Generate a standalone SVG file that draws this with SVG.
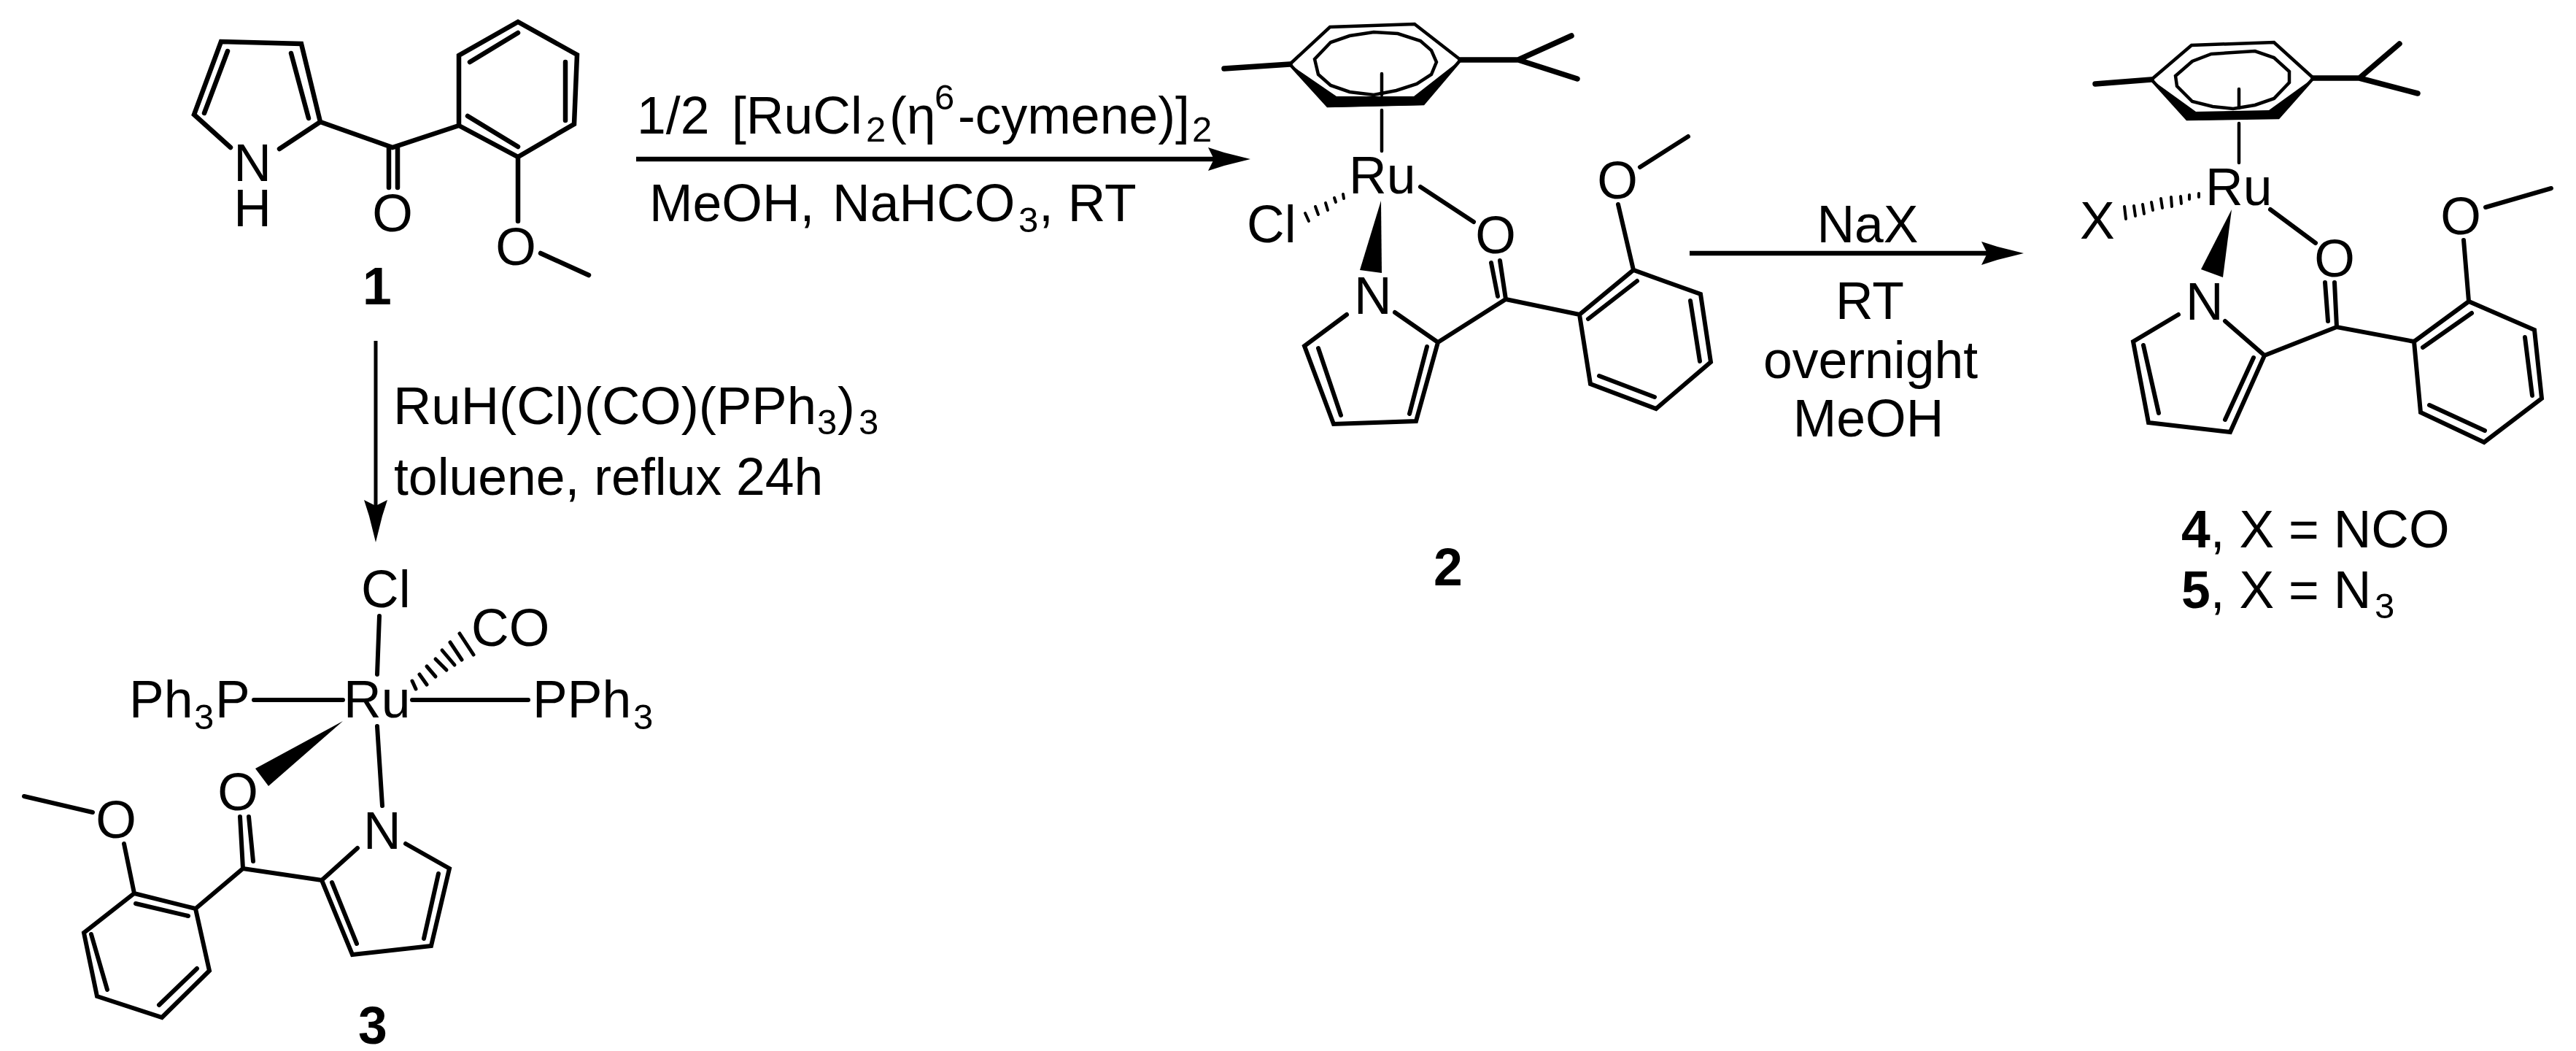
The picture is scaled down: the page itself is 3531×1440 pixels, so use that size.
<svg xmlns="http://www.w3.org/2000/svg" width="3531" height="1440" viewBox="0 0 3531 1440">
<style>
text{font-family:"Liberation Sans",Arial,sans-serif;font-size:71.5px;fill:#000}
.b{font-weight:bold}
.m{text-anchor:middle}
.s{font-size:49px}
.bond{fill:none;stroke:#000;stroke-width:6.5;stroke-linecap:round}
.thin{fill:none;stroke:#000;stroke-width:4.5;stroke-linecap:round}
.thick{fill:none;stroke:#000;stroke-width:7.5;stroke-linecap:round}
.arr{fill:none;stroke:#000;stroke-width:6.5}
.fill{fill:#000;stroke:none}
</style>
<defs>
<path id="head" class="fill" d="M0 0L-36 -9L-58 -16L-50 0L-58 16L-36 9Z"/>
</defs>
<rect width="3531" height="1440" fill="#fff"/>
<g id="connectors">
<line class="arr" x1="872" y1="218" x2="1670" y2="218"/><use href="#head" transform="translate(1714 218)"/>
<line class="arr" x1="2316" y1="347" x2="2730" y2="347"/><use href="#head" transform="translate(2774 347)"/>
<line class="arr" style="stroke-width:5" x1="515" y1="467" x2="515" y2="700"/><use href="#head" transform="translate(515 743) rotate(90)"/>
</g>
<g id="compound-1">
<path class="bond" d="M316 202L266 157L303 57L413 60L439 167L383 204M312 70L280 155M399 73L423 162M439 167L538 202L629 172M533 202V257M545 202V257M629 172V76L710 30L791 75L787 170L710 215L629 172M644 85L710 45M775 85V165M641 159L710 201M710 215V303M741 347L807 377"/>
<text class="m"><tspan x="346" y="248">N</tspan><tspan x="346" y="310">H</tspan></text>
<text class="m" x="538" y="317">O</text><text class="m" x="707" y="363">O</text>
<text class="b m" x="517" y="417">1</text>
</g>
<g id="compound-2">
<path class="bond" d="M1768 88L1823 37L1939 33L2002 82L1951 142L1820 145Z" style="stroke-width:4.5"/>
<polygon class="fill" points="1768,88 1820,147 1951,144 2002,82 1938,132 1832,132"/>
<path class="thick" d="M1678 94L1768 88M2002 82H2081L2154 49M2081 82L2162 108"/>
<polygon class="thin" points="1802,81 1824,58 1850,49 1883,44 1916,46 1947,56 1962,69 1969,85 1962,102 1942,115 1914,124 1883,130 1850,126 1824,117 1807,102"/>
<path class="thin" d="M1894 101V130M1894 151V207"/>
<text x="1849" y="265">Ru</text><text x="1709" y="332">Cl</text>
<path class="thin" d="M1841 266L1842 272M1829 271L1831 277M1817 278L1820 288M1803 283L1807 294M1789 292L1794 303" style="stroke-width:4"/>
<polygon class="fill" points="1893,275 1864,370 1894,374"/>
<text x="1856" y="430">N</text>
<text class="m" x="2050" y="347">O</text>
<path class="bond" style="stroke-width:6" d="M1947 256L2020 304M2044 360L2053 406M2056 357L2064 410M1846 431L1788 474L1828 581L1941 577L1971 469L1912 428M1807 477L1838 569M1956 475L1932 567M1971 469L2064 410L2165 431L2239 370L2331 403L2345 496L2270 560L2180 526L2165 431M2177 437L2244 385M2317 412L2330 495M2192 515L2268 544M2239 370L2218 280M2248 229L2314 187"/>
<text class="m" x="2217" y="272">O</text>
<text class="b m" x="1985" y="802">2</text>
</g>
<g id="compound-3">
<text x="495" y="832">Cl</text><text x="646" y="885">CO</text>
<path class="bond" style="stroke-width:6" d="M520 844L517 924M348 959H470M565 959H724M517 995L524 1104"/>
<path class="thin" style="stroke-width:5" d="M630 868L649 897M617 880L633 904M606 891L623 911M597 903L612 918M585 913L597 927M575 924L585 938M565 933L570 944"/>
<text x="177" y="983">Ph</text><text class="s" x="266" y="999">3</text><text x="295" y="983">P</text>
<text x="471" y="983">Ru</text>
<text x="730" y="983">PPh</text><text class="s" x="868" y="999">3</text>
<polygon class="fill" points="470,988 350,1053 368,1077"/>
<text class="m" x="326" y="1110">O</text><text x="498" y="1163">N</text>
<path class="bond" style="stroke-width:6" d="M490 1162L441 1206L483 1308L591 1296L616 1190L556 1156M455 1209L489 1293M601 1197L581 1286M441 1206L333 1190M329 1119L333 1190M341 1119L347 1180M333 1190L268 1245L184 1224L115 1278L133 1365L222 1394L287 1330L268 1245M186 1238L258 1255M125 1280L147 1356M218 1377L270 1327M184 1224L170 1156M127 1113L33 1091"/>
<text class="m" x="159" y="1148">O</text>
<text class="b m" x="511" y="1430">3</text>
</g>
<g id="compound-4-5">
<path class="bond" d="M2949 109L3004 62L3117 58L3171 107L3123 161L2998 163Z" style="stroke-width:4.5"/>
<polygon class="fill" points="2949,109 2998,165 3123,162 3171,107 3110,151 3010,153"/>
<path class="thick" d="M2872 115L2949 109M3171 107H3234L3289 60M3234 107L3314 128"/>
<polygon class="thin" points="2982,104 3005,84 3031,74 3091,70 3117,79 3138,98 3138,113 3117,135 3091,144 3061,149 3033,146 3005,139 2984,118"/>
<path class="thin" d="M3069 122V148M3069 169V223"/>
<text x="3023" y="281">Ru</text><text x="2851" y="327">X</text>
<path class="thin" d="M3014 265V270M3001 267V273M2989 269L2990 279M2976 270L2977 283M2962 272L2964 285M2949 277L2951 288M2937 280L2939 293M2925 282L2927 296M2912 283L2914 300" style="stroke-width:4"/>
<polygon class="fill" points="3059,287 3017,369 3047,380"/>
<text x="2996" y="438">N</text>
<text class="m" x="3200" y="379">O</text>
<path class="bond" style="stroke-width:6" d="M3112 287L3174 333M3187 387L3191 440M3200 387L3203 448M2986 431L2924 468L2945 579L3057 592L3104 487L3050 440M2938 473L2959 566M3089 490L3050 575M3104 487L3203 448L3309 468L3384 413L3474 452L3484 546L3405 606L3318 565L3309 468M3321 476L3388 429M3461 462L3471 542M3330 555L3406 590M3384 413L3377 329M3407 284L3497 258"/>
<text class="m" x="3373" y="321">O</text>
<text x="2990" y="750"><tspan class="b">4</tspan>, X = NCO</text>
<text x="2990" y="833"><tspan class="b">5</tspan>, X = N</text><text class="s" x="3255" y="847">3</text>
</g>
<g id="reagents">
<text x="873" y="183">1/2</text>
<text x="1003" y="183">[RuCl</text>
<text class="s" x="1187" y="194">2</text>
<text x="1219" y="183">(η</text>
<text class="s" x="1281" y="150">6</text>
<text x="1313" y="183">-cymene)]</text>
<text class="s" x="1634" y="194">2</text>
<text x="890" y="303">MeOH,</text>
<text x="1141" y="303">NaHCO</text>
<text class="s" x="1396" y="318">3</text>
<text x="1424" y="303">, RT</text>
<text class="m" x="2560" y="332">NaX</text>
<text class="m" x="2563" y="437">RT</text>
<text class="m" x="2564" y="518">overnight</text>
<text class="m" x="2561" y="598">MeOH</text>
<text x="539" y="581" style="font-size:72.5px">RuH(Cl)(CO)(PPh</text>
<text class="s" x="1120" y="595">3</text>
<text x="1148" y="581">)</text>
<text class="s" x="1177" y="595">3</text>
<text x="540" y="678">toluene, reflux 24h</text>
</g>
</svg>
